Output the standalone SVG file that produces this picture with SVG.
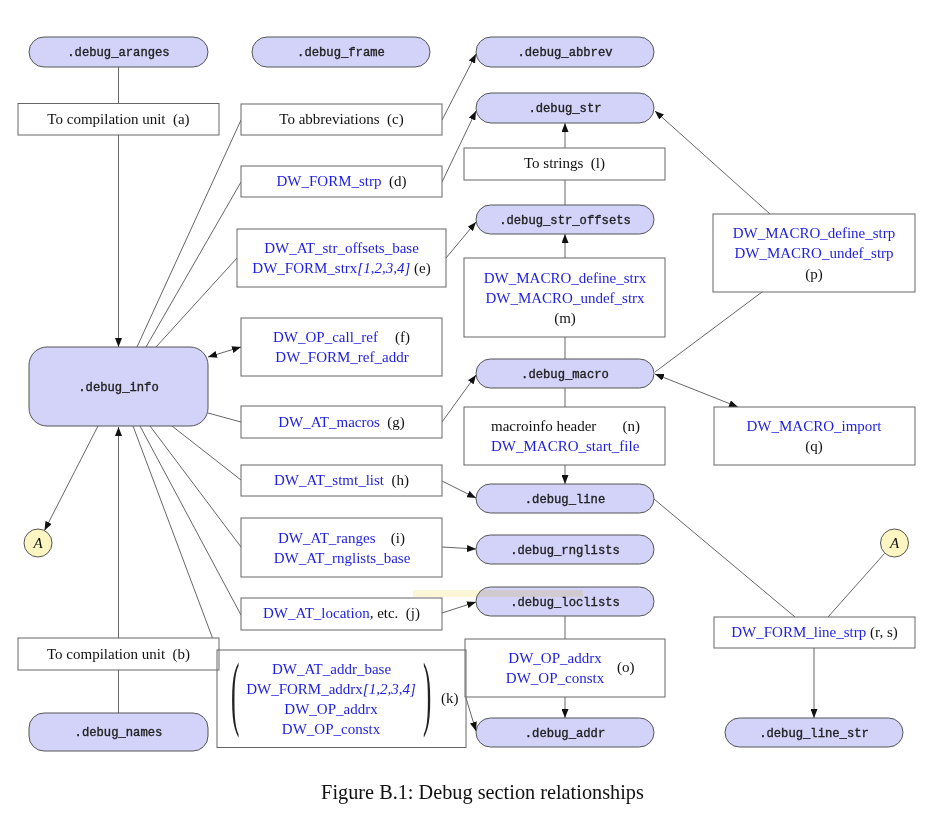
<svg xmlns="http://www.w3.org/2000/svg" width="932" height="840" viewBox="0 0 932 840">
<style>
.pill{fill:#d3d3fa;stroke:#555;stroke-width:1}
.box{fill:#fff;stroke:#666;stroke-width:1}
.circ{fill:#fdf6c2;stroke:#555;stroke-width:1}
.mono{font-family:"Liberation Mono","DejaVu Sans Mono",monospace;font-size:12.2px;fill:#222;stroke:#222;stroke-width:0.35;text-anchor:middle}
.t{font-family:"Liberation Serif","DejaVu Serif",serif;font-size:15px;fill:#111}
.mid{text-anchor:middle}
.end{text-anchor:end}
.bl{fill:#1e1ee0}
.it{font-style:italic}
.ln{fill:none;stroke:#555;stroke-width:0.9}
.par{font-family:"Liberation Serif",serif;font-size:25px;fill:#222}
.cap{font-family:"Liberation Serif","DejaVu Serif",serif;font-size:20.3px;fill:#111;text-anchor:middle}
</style>
<defs>
<marker id="ah" viewBox="0 0 9 7" refX="9" refY="3.5" markerWidth="9" markerHeight="7" markerUnits="userSpaceOnUse" orient="auto-start-reverse">
<path d="M0,0 L9,3.5 L0,7 z" fill="#111"/>
</marker>
</defs>
<rect width="932" height="840" fill="#fff"/>

<g id="connectors">
<path class="ln" d="M118.5,67 V347" marker-end="url(#ah)"/>
<path class="ln" d="M137,347 L241,120"/>
<path class="ln" d="M146,347 L241,182"/>
<path class="ln" d="M156,347 L237,258"/>
<path class="ln" d="M442,120 L476,54" marker-end="url(#ah)"/>
<path class="ln" d="M442,182 L476,111" marker-end="url(#ah)"/>
<path class="ln" d="M446,258 L476,222" marker-end="url(#ah)"/>
<path class="ln" d="M565,205 V123" marker-end="url(#ah)"/>
<path class="ln" d="M565,359 V234" marker-end="url(#ah)"/>
<path class="ln" d="M655,372 L762,292"/>
<path class="ln" d="M770,214 L655,111" marker-end="url(#ah)"/>
<path class="ln" d="M655,374 L738,407" marker-start="url(#ah)" marker-end="url(#ah)"/>
<path class="ln" d="M208,357 L241,347" marker-start="url(#ah)" marker-end="url(#ah)"/>
<path class="ln" d="M208,413 L241,422"/>
<path class="ln" d="M442,422 L476,375" marker-end="url(#ah)"/>
<path class="ln" d="M172,426 L241,480"/>
<path class="ln" d="M442,481 L476,498" marker-end="url(#ah)"/>
<path class="ln" d="M150,426 L241,547"/>
<path class="ln" d="M442,547 L476,549" marker-end="url(#ah)"/>
<path class="ln" d="M140,426 L241,615"/>
<path class="ln" d="M442,613 L476,602" marker-end="url(#ah)"/>
<path class="ln" d="M133,426 L217,650"/>
<path class="ln" d="M466,698 L476,731" marker-end="url(#ah)"/>
<path class="ln" d="M118.5,713 V427" marker-end="url(#ah)"/>
<path class="ln" d="M98,426 L44.5,530.5" marker-end="url(#ah)"/>
<path class="ln" d="M654,499 L795,617"/>
<path class="ln" d="M884.5,553.5 L828,617"/>
<path class="ln" d="M814,648 V718" marker-end="url(#ah)"/>
<path class="ln" d="M565,388 V484" marker-end="url(#ah)"/>
<path class="ln" d="M565,616 V718" marker-end="url(#ah)"/>
</g>

<g id="debug_aranges"><rect class="pill" x="29" y="37" width="179" height="30" rx="15"/><text class="mono" x="118.5" y="56">.debug_aranges</text></g>
<g id="debug_frame"><rect class="pill" x="252" y="37" width="178" height="30" rx="15"/><text class="mono" x="341" y="56">.debug_frame</text></g>
<g id="debug_abbrev"><rect class="pill" x="476" y="37" width="178" height="30" rx="15"/><text class="mono" x="565" y="56">.debug_abbrev</text></g>
<g id="debug_str"><rect class="pill" x="476" y="93" width="178" height="30" rx="15"/><text class="mono" x="565" y="112">.debug_str</text></g>
<g id="debug_str_offsets"><rect class="pill" x="476" y="205" width="178" height="29" rx="14.5"/><text class="mono" x="565" y="223.5">.debug_str_offsets</text></g>
<g id="debug_info"><rect class="pill" x="29" y="347" width="179" height="79" rx="18"/><text class="mono" x="118.5" y="390.5">.debug_info</text></g>
<g id="debug_macro"><rect class="pill" x="476" y="359" width="178" height="29" rx="14.5"/><text class="mono" x="565" y="377.5">.debug_macro</text></g>
<g id="debug_line"><rect class="pill" x="476" y="484" width="178" height="29" rx="14.5"/><text class="mono" x="565" y="502.5">.debug_line</text></g>
<g id="debug_rnglists"><rect class="pill" x="476" y="535" width="178" height="29" rx="14.5"/><text class="mono" x="565" y="553.5">.debug_rnglists</text></g>
<g id="debug_loclists"><rect class="pill" x="476" y="587" width="178" height="29" rx="14.5"/><text class="mono" x="565" y="605.5">.debug_loclists</text></g>
<rect x="413" y="590" width="170" height="7" fill="#fdf6d6" style="mix-blend-mode:multiply"/>
<g id="debug_addr"><rect class="pill" x="476" y="718" width="178" height="29" rx="14.5"/><text class="mono" x="565" y="736.5">.debug_addr</text></g>
<g id="debug_line_str"><rect class="pill" x="725" y="718" width="178" height="29" rx="14.5"/><text class="mono" x="814" y="736.5">.debug_line_str</text></g>
<g id="debug_names"><rect class="pill" x="29" y="713" width="179" height="38" rx="15"/><text class="mono" x="118.5" y="736">.debug_names</text></g>

<g id="A_left"><circle class="circ" cx="38" cy="543" r="14"/><text class="t it mid" x="38" y="548">A</text></g>
<g id="A_right"><circle class="circ" cx="894.5" cy="543" r="14"/><text class="t it mid" x="894.5" y="548">A</text></g>

<g id="box_a"><rect class="box" x="18" y="103.5" width="201" height="31.5"/><text class="t mid" x="118.5" y="123.5" xml:space="preserve">To compilation unit  (a)</text></g>
<g id="box_b"><rect class="box" x="18" y="638" width="201" height="32"/><text class="t mid" x="118.5" y="658.5" xml:space="preserve">To compilation unit  (b)</text></g>
<g id="box_c"><rect class="box" x="241" y="104" width="201" height="31"/><text class="t mid" x="341.5" y="124" xml:space="preserve">To abbreviations  (c)</text></g>
<g id="box_d"><rect class="box" x="241" y="166" width="201" height="31"/><text class="t mid" x="341.5" y="186" xml:space="preserve"><tspan class="bl">DW_FORM_strp</tspan>  (d)</text></g>
<g id="box_e"><rect class="box" x="237" y="229" width="209" height="58"/>
<text class="t mid bl" x="341.5" y="253">DW_AT_str_offsets_base</text>
<text class="t mid" x="341.5" y="273" xml:space="preserve"><tspan class="bl">DW_FORM_strx</tspan><tspan class="bl it">[1,2,3,4]</tspan> (e)</text></g>
<g id="box_f"><rect class="box" x="241" y="318" width="201" height="58"/>
<text class="t bl" x="273" y="342">DW_OP_call_ref</text><text class="t end" x="410" y="342">(f)</text>
<text class="t mid bl" x="342" y="362">DW_FORM_ref_addr</text></g>
<g id="box_g"><rect class="box" x="241" y="406" width="201" height="32"/><text class="t mid" x="341.5" y="426.5" xml:space="preserve"><tspan class="bl">DW_AT_macros</tspan>  (g)</text></g>
<g id="box_h"><rect class="box" x="241" y="465" width="201" height="31"/><text class="t mid" x="341.5" y="485" xml:space="preserve"><tspan class="bl">DW_AT_stmt_list</tspan>  (h)</text></g>
<g id="box_i"><rect class="box" x="241" y="518" width="201" height="59"/>
<text class="t bl" x="278" y="543">DW_AT_ranges</text><text class="t end" x="405" y="543">(i)</text>
<text class="t mid bl" x="342" y="563">DW_AT_rnglists_base</text></g>
<g id="box_j"><rect class="box" x="241" y="598" width="201" height="32"/><text class="t mid" x="341.5" y="618" xml:space="preserve"><tspan class="bl">DW_AT_location</tspan>, etc.  (j)</text></g>
<g id="box_l"><rect class="box" x="464" y="148" width="201" height="32"/><text class="t mid" x="564.5" y="168" xml:space="preserve">To strings  (l)</text></g>
<g id="box_m"><rect class="box" x="464" y="258" width="201" height="79"/>
<text class="t mid bl" x="565" y="283">DW_MACRO_define_strx</text>
<text class="t mid bl" x="565" y="303">DW_MACRO_undef_strx</text>
<text class="t mid" x="565" y="323">(m)</text></g>
<g id="box_p"><rect class="box" x="713" y="214" width="202" height="78"/>
<text class="t mid bl" x="814" y="238">DW_MACRO_define_strp</text>
<text class="t mid bl" x="814" y="258">DW_MACRO_undef_strp</text>
<text class="t mid" x="814" y="279">(p)</text></g>
<g id="box_n"><rect class="box" x="464" y="407" width="201" height="58"/>
<text class="t" x="491" y="431">macroinfo header</text><text class="t end" x="640" y="431">(n)</text>
<text class="t bl" x="491" y="451">DW_MACRO_start_file</text></g>
<g id="box_q"><rect class="box" x="714" y="407" width="201" height="58"/>
<text class="t mid bl" x="814" y="431">DW_MACRO_import</text>
<text class="t mid" x="814" y="451">(q)</text></g>
<g id="box_o"><rect class="box" x="465" y="639" width="200" height="58"/>
<text class="t mid bl" x="555" y="663">DW_OP_addrx</text>
<text class="t mid bl" x="555" y="683">DW_OP_constx</text>
<text class="t" x="617" y="672">(o)</text></g>
<g id="box_k"><rect x="217" y="650" width="249" height="97.5" fill="none" stroke="#666" stroke-width="1"/>
<text class="par" transform="translate(231,719.5) scale(1,3.3)">(</text>
<text class="par" transform="translate(423,719.5) scale(1,3.3)">)</text>
<text class="t mid bl" x="331.5" y="674">DW_AT_addr_base</text>
<text class="t mid" x="331" y="694"><tspan class="bl">DW_FORM_addrx</tspan><tspan class="bl it">[1,2,3,4]</tspan></text>
<text class="t mid bl" x="331" y="714">DW_OP_addrx</text>
<text class="t mid bl" x="331" y="734">DW_OP_constx</text>
<text class="t" x="441" y="703">(k)</text></g>
<g id="box_rs"><rect class="box" x="714" y="617" width="201" height="31"/><text class="t mid" x="814.5" y="636.5" xml:space="preserve"><tspan class="bl">DW_FORM_line_strp</tspan> (r, s)</text></g>

<text class="cap" x="482.5" y="799">Figure B.1: Debug section relationships</text>
</svg>
